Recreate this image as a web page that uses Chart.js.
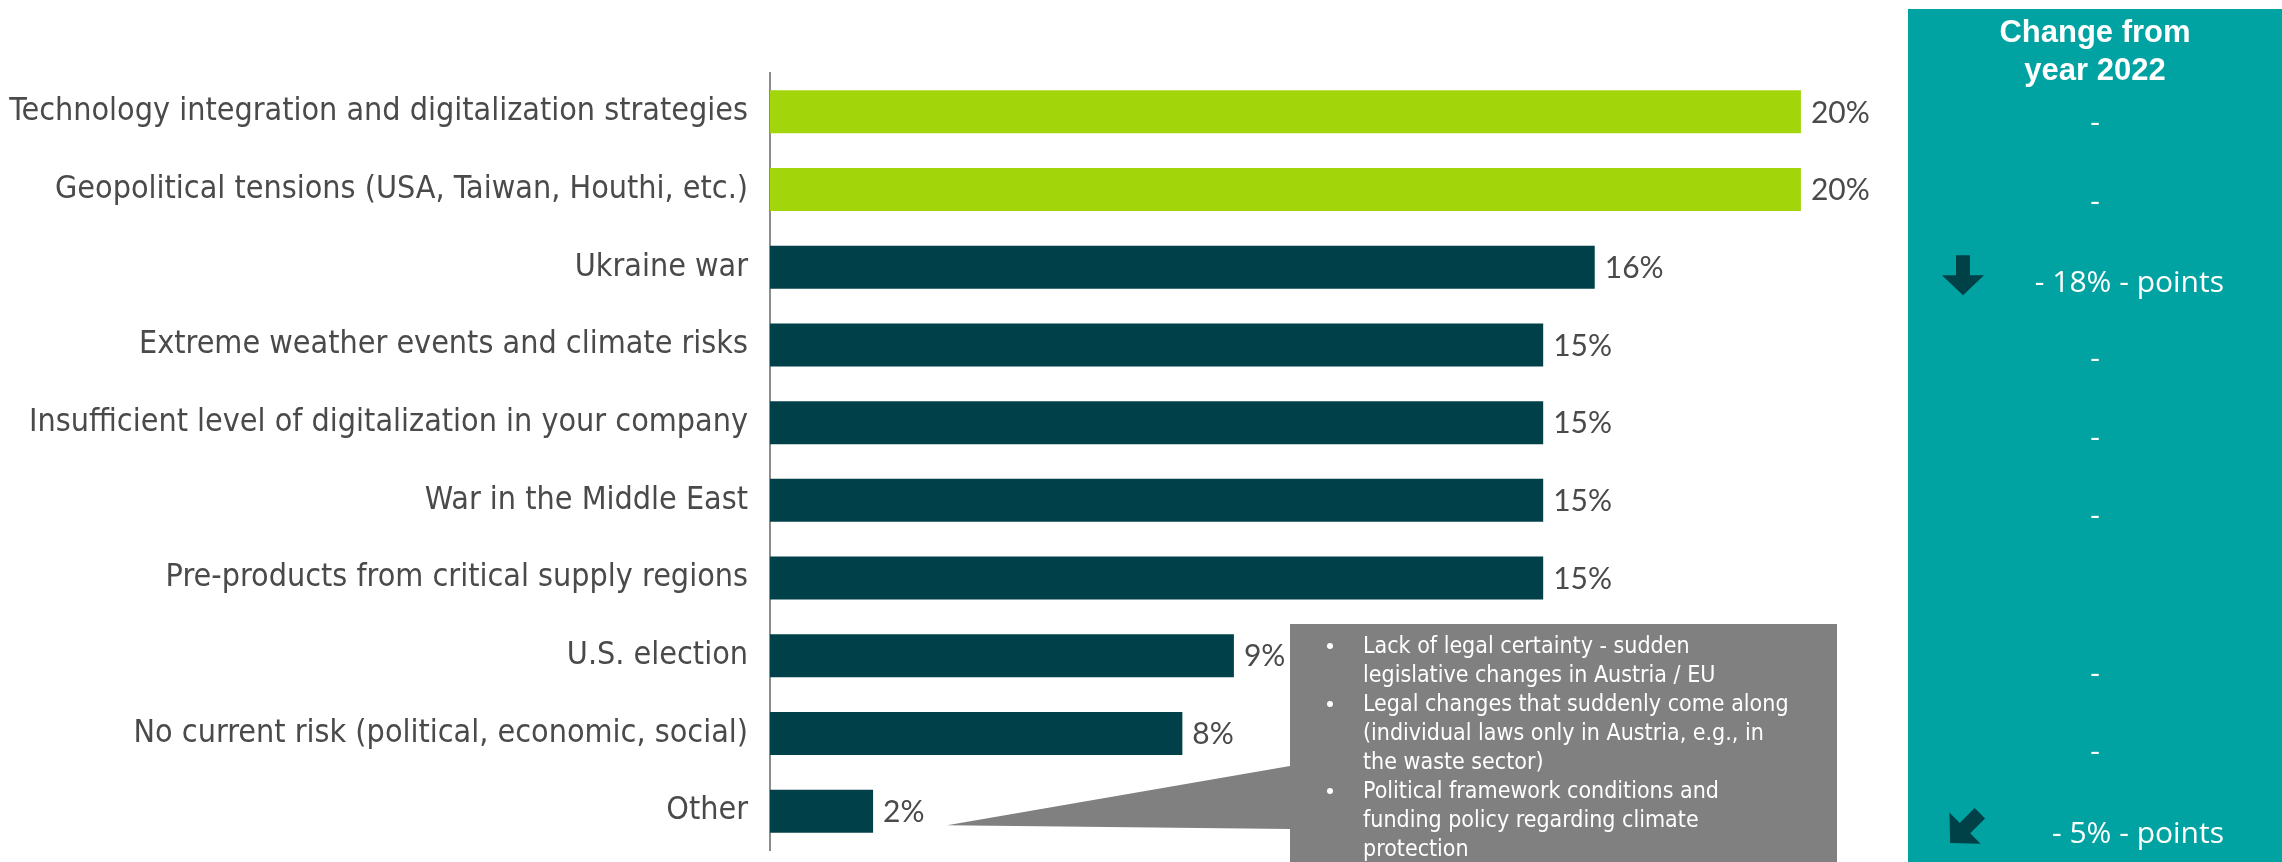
<!DOCTYPE html>
<html>
<head>
<meta charset="utf-8">
<title>Risks</title>
<script src="https://cdn.jsdelivr.net/npm/chart.js@4.4.1/dist/chart.umd.min.js"></script>
<style>
    html, body { margin: 0; padding: 0; background: #fff; overflow: hidden; }
    #wrap { position: relative; width: 2282px; height: 862px; }
    canvas { display: block; }
</style>
</head>
<body>
<div id="wrap"><canvas id="riskChart" width="2282" height="862"></canvas></div>
<script>
// Risk categories and share of mentions (%)
const categories = [
    'Technology integration and digitalization strategies',
    'Geopolitical tensions (USA, Taiwan, Houthi, etc.)',
    'Ukraine war',
    'Extreme weather events and climate risks',
    'Insufficient level of digitalization in your company',
    'War in the Middle East',
    'Pre-products from critical supply regions',
    'U.S. election',
    'No current risk (political, economic, social)',
    'Other'
];
const shares = [20, 20, 16, 15, 15, 15, 15, 9, 8, 2];

// New items this year get the green highlight
const isNew = [true, true, false, false, false, false, false, false, false, false];

// Change column vs. 2022 (empty string = no entry)
const changeLabels = ['-', '-', '- 18% - points', '-', '-', '-', '', '-', '-', '- 5% - points'];
const changeArrows = [null, null, 'down', null, null, null, null, null, null, 'downLeft'];

// Comments listed for "Other"
const otherNotes = [
    ['Lack of legal certainty - sudden', 'legislative changes in Austria / EU'],
    ['Legal changes that suddenly come along', '(individual laws only in Austria, e.g., in', 'the waste sector)'],
    ['Political framework conditions and', 'funding policy regarding climate', 'protection']
];

const colors = {
    newBar: '#a3d50b',
    bar: '#004149',
    text: '#4a4a4a',
    axis: '#8c8c8c',
    panel: '#00a3a1',
    arrow: '#004047',
    callout: '#808080'
};

const labelFont = "'DejaVu Sans Condensed', 'DejaVu Sans', sans-serif";
const valueFont = "Lato, 'Open Sans', sans-serif";

// Percent labels right of each bar
const valueLabels = {
    id: 'valueLabels',
    afterDatasetsDraw(chart) {
        const ctx = chart.ctx;
        const meta = chart.getDatasetMeta(0);
        ctx.save();
        ctx.font = `30px ${valueFont}`;
        ctx.fillStyle = colors.text;
        ctx.textAlign = 'left';
        ctx.textBaseline = 'middle';
        meta.data.forEach((bar, i) => {
            ctx.fillText(Math.round(shares[i]) + '%', bar.x + 10, bar.y + 1);
        });
        ctx.restore();
    }
};

function drawArrow(ctx, cx, cy, angle, scale) {
    ctx.save();
    ctx.translate(cx, cy);
    ctx.rotate(angle);
    ctx.scale(scale, scale);
    ctx.beginPath();
    ctx.moveTo(-7, -20);
    ctx.lineTo(7, -20);
    ctx.lineTo(7, 0);
    ctx.lineTo(21, 0);
    ctx.lineTo(0, 20);
    ctx.lineTo(-21, 0);
    ctx.lineTo(-7, 0);
    ctx.closePath();
    ctx.fillStyle = colors.arrow;
    ctx.fill();
    ctx.restore();
}

// Teal "change from 2022" column on the right
const changePanel = {
    id: 'changePanel',
    afterDraw(chart) {
        const ctx = chart.ctx;
        const y = chart.scales.y;
        const left = 1908, top = 9;
        const cx = 2095;
        ctx.save();
        ctx.fillStyle = colors.panel;
        ctx.fillRect(left, top, chart.width - left, chart.height - top);

        ctx.fillStyle = '#ffffff';
        ctx.textAlign = 'center';
        ctx.textBaseline = 'alphabetic';
        ctx.font = "bold 31px 'Liberation Sans', Arial, sans-serif";
        ctx.fillText('Change from', cx, 42);
        ctx.fillText('year 2022', cx, 80);

        ctx.font = "30px 'Open Sans', sans-serif";
        categories.forEach((_, i) => {
            const rowY = y.getPixelForValue(i) + 12 + i;
            const txt = changeLabels[i];
            if (txt === '-') {
                ctx.textAlign = 'center';
                ctx.fillText(txt, cx, rowY + 8);
            } else if (txt) {
                ctx.textAlign = 'right';
                ctx.fillText(txt, 2224, rowY + 11);
            }
            if (changeArrows[i] === 'down') {
                drawArrow(ctx, 1963, rowY - 6, 0, 1);
            } else if (changeArrows[i] === 'downLeft') {
                drawArrow(ctx, 1965, rowY - 4, Math.PI / 4, 1.05);
            }
        });
        ctx.restore();
    }
};

// Grey speech box listing the "Other" answers
const otherCallout = {
    id: 'otherCallout',
    afterDraw(chart) {
        const ctx = chart.ctx;
        const bar = chart.getDatasetMeta(0).data[categories.length - 1];
        const boxL = 1290, boxT = 624, boxR = 1837, boxB = chart.height;
        const tipX = bar.x + 74, tipY = bar.y + 14;
        ctx.save();
        ctx.fillStyle = colors.callout;
        ctx.beginPath();
        ctx.moveTo(boxL, boxT);
        ctx.lineTo(boxR, boxT);
        ctx.lineTo(boxR, boxB);
        ctx.lineTo(boxL, boxB);
        ctx.lineTo(boxL, 829);
        ctx.lineTo(tipX, tipY);
        ctx.lineTo(boxL, 766);
        ctx.closePath();
        ctx.fill();

        ctx.fillStyle = '#ffffff';
        ctx.textAlign = 'left';
        ctx.textBaseline = 'alphabetic';
        ctx.font = `23px ${labelFont}`;
        let line = 0;
        otherNotes.forEach(note => {
            note.forEach((txt, j) => {
                const by = 653 + line * 29;
                if (j === 0) {
                    ctx.beginPath();
                    ctx.arc(1330, by - 7, 3, 0, Math.PI * 2);
                    ctx.fill();
                }
                ctx.fillText(txt, 1363, by);
                line++;
            });
        });
        ctx.restore();
    }
};

new Chart(document.getElementById('riskChart'), {
    type: 'bar',
    data: {
        labels: categories,
        datasets: [{
            data: shares,
            backgroundColor: isNew.map(n => n ? colors.newBar : colors.bar),
            borderWidth: 0,
            barPercentage: 0.554,
            categoryPercentage: 1.0
        }]
    },
    options: {
        indexAxis: 'y',
        responsive: false,
        animation: false,
        devicePixelRatio: 1,
        layout: { padding: { left: 0, top: 73, bottom: 12, right: 378 } },
        plugins: {
            legend: { display: false },
            tooltip: { enabled: false }
        },
        scales: {
            x: { display: false, min: 0, max: 22 },
            y: {
                grid: { display: false, drawTicks: false },
                border: { display: true, color: colors.axis, width: 2 },
                ticks: {
                    color: colors.text,
                    padding: 22,
                    font: { family: labelFont, size: 32 }
                },
                afterFit(scale) {
                    // fixed label column; no extra room above/below the bars
                    scale.width = 770;
                    scale.paddingTop = 0;
                    scale.paddingBottom = 0;
                }
            }
        }
    },
    plugins: [valueLabels, changePanel, otherCallout]
});
</script>
</body>
</html>
